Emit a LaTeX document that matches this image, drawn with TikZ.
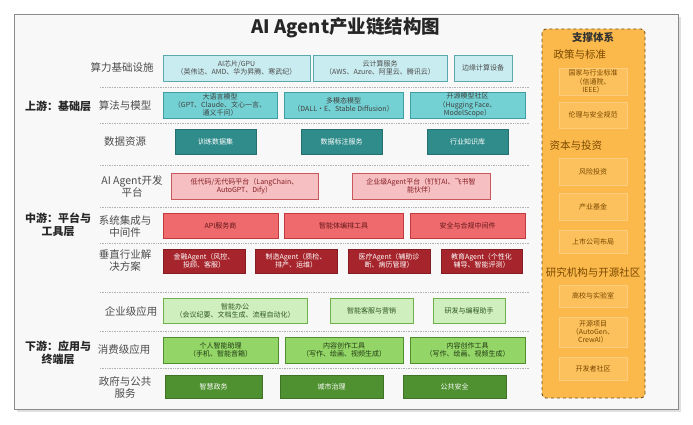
\documentclass[tikz,border=0pt]{standalone}
\usepackage{fontspec}
\setmainfont{Noto Sans CJK SC}
\usetikzlibrary{calc}

\definecolor{frameline}{HTML}{8A8A8A}
\definecolor{framefill}{HTML}{F8F8F8}
\definecolor{cyanAfill}{HTML}{C9ECF0}
\definecolor{cyanAline}{HTML}{5AA9AE}
\definecolor{cyanBfill}{HTML}{74D1D3}
\definecolor{cyanBline}{HTML}{3E9EA2}
\definecolor{tealfill}{HTML}{2F8C8B}
\definecolor{pinkfill}{HTML}{F6BFC2}
\definecolor{pinkline}{HTML}{C8585C}
\definecolor{salmonfill}{HTML}{EE6A6C}
\definecolor{salmonline}{HTML}{C23A3C}
\definecolor{wine}{HTML}{A6242B}
\definecolor{leaffill}{HTML}{CFEFBF}
\definecolor{leafline}{HTML}{6DB04C}
\definecolor{grassfill}{HTML}{93D566}
\definecolor{grassline}{HTML}{4F8E2F}
\definecolor{forest}{HTML}{4F9130}
\definecolor{amber}{HTML}{FBB94B}
\definecolor{amberline}{HTML}{6E5020}
\definecolor{amberbox}{HTML}{FCC15C}
\definecolor{brown}{HTML}{7A4800}

\tikzset{
  cell/.style={draw, align=center, inner sep=1pt, line width=0.6pt,
    font=\fontsize{7}{8.2}\selectfont},
  cyanA/.style={cell, fill=cyanAfill, draw=cyanAline, text=black!70},
  cyanB/.style={cell, fill=cyanBfill, draw=cyanBline, text=black!75},
  teal/.style={cell, fill=tealfill, draw=tealfill!80!black, text=white},
  pink/.style={cell, fill=pinkfill, draw=pinkline, text=wine!80!black},
  salmon/.style={cell, fill=salmonfill, draw=salmonline, text=wine!60!black},
  winebox/.style={cell, fill=wine, draw=wine!80!black, text=white},
  leaf/.style={cell, fill=leaffill, draw=leafline, text=forest!60!black},
  grass/.style={cell, fill=grassfill, draw=grassline, text=forest!40!black},
  forestbox/.style={cell, fill=forest, draw=forest!80!black, text=white},
  subcell/.style={cell, fill=amberbox, draw=amberbox!80!white, text=brown},
  rowlab/.style={align=center, font=\fontsize{10.5}{12}\selectfont, text=black!70},
  grplab/.style={align=center, font=\fontsize{11}{13}\selectfont\bfseries, text=black!85},
  panelhead/.style={font=\fontsize{10.5}{12}\selectfont, text=brown},
  sep/.style={densely dotted, draw=black!30, line width=0.7pt}
}

% cell from corner to corner, in pixels of the 693x425 picture
\def\cell[#1](#2)(#3,#4)(#5,#6)#7{\node[#1, minimum width={(#5)-(#3)}, minimum height={(#6)-(#4)}] (#2) at ({((#3)+(#5))/2},{((#4)+(#6))/2}) {#7};}

\begin{document}
\begin{tikzpicture}[x=1pt, y=-1pt]
			%%%%% START %%%%%
			\useasboundingbox[fill=white] (0,0) rectangle (693,425);
			
			% frame
			\fill[black!12] (17,17) rectangle (681,412);
			\draw[frameline, fill=framefill, line width=0.8pt] (14,14) rectangle (678,409);
			
			\node[font=\fontsize{18.5}{20}\selectfont\bfseries, text=black!85] (title) at (346,28) {AI Agent产业链结构图};
			
			% separators
			\foreach \y in {87,123,165,207,243,292,331,368}
				\draw[sep] (100,\y) -- (530,\y);
			
			% upstream
			\node[grplab] (up) at (58,106) {上游：基础层};
			\node[rowlab] (compute) at (122,68) {算力基础设施};
			\node[rowlab] (algo) at (125,105) {算法与模型};
			\node[rowlab] (data) at (125,142) {数据资源};
			
			\cell[cyanA](chip)(163,55)(310,81){AI芯片/GPU\\（英伟达、AMD、华为昇腾、寒武纪）}
			\cell[cyanA](cloud)(313,55)(447,81){云计算服务\\（AWS、Azure、阿里云、腾讯云）}
			\cell[cyanA](edge)(454,55)(512,81){边缘计算设备}
			
			\cell[cyanB](llm)(163,92)(277,118){大语言模型\\（GPT、Claude、文心一言、\\通义千问）}
			\cell[cyanB](multimodal)(284,92)(403,118){多模态模型\\（DALL·E、Stable Diffusion）}
			\cell[cyanB](opensrc)(410,92)(525,118){开源模型社区\\（Hugging Face、\\ModelScope）}
			
			\cell[teal](dataset)(175,129)(256,154){训练数据集}
			\cell[teal](labeling)(301,129)(382,154){数据标注服务}
			\cell[teal](knowledge)(427,129)(508,154){行业知识库}
			
			% midstream
			\node[grplab] (mid) at (58,225) {中游：平台与\\工具层};
			\node[rowlab] (devplat) at (132,186) {AI Agent开发\\平台};
			\node[rowlab] (middleware) at (125,226) {系统集成与\\中间件};
			\node[rowlab] (vertical) at (125,261) {垂直行业解\\决方案};
			
			\cell[pink](lowcode)(171,173)(318,199){低代码/无代码平台（LangChain、\\AutoGPT、Dify）}
			\cell[pink](entplat)(352,173)(490,199){企业级Agent平台（钉钉AI、飞书智\\能伙伴）}
			
			\cell[salmon](api)(163,213)(278,238){API服务商}
			\cell[salmon](orch)(284,213)(403,238){智能体编排工具}
			\cell[salmon](security)(410,213)(525,238){安全与合规中间件}
			
			\cell[winebox](finance)(163,249)(245,273){金融Agent（风控、\\投顾、客服）}
			\cell[winebox](factory)(255,249)(337,273){制造Agent（质检、\\排产、运维）}
			\cell[winebox](medical)(348,249)(430,273){医疗Agent（辅助诊\\断、病历管理）}
			\cell[winebox](education)(441,249)(522,273){教育Agent（个性化\\辅导、智能评测）}
			
			% downstream
			\node[grplab] (down) at (58,353) {下游：应用与\\终端层};
			\node[rowlab] (enterprise) at (131,311) {企业级应用};
			\node[rowlab] (consumer) at (124,350) {消费级应用};
			\node[rowlab] (public) at (125,387) {政府与公共\\服务};
			
			\cell[leaf](office)(163,298)(307,323){智能办公\\（会议纪要、文档生成、流程自动化）}
			\cell[leaf](service)(330,298)(413,323){智能客服与营销}
			\cell[leaf](coding)(433,298)(505,323){研发与编程助手}
			
			\cell[grass](assistant)(163,337)(278,363){个人智能助理\\（手机、智能音箱）}
			\cell[grass](content)(285,337)(403,363){内容创作工具\\（写作、绘画、视频生成）}
			\cell[grass](contentb)(410,337)(525,363){内容创作工具\\（写作、绘画、视频生成）}
			
			\cell[forestbox](egov)(165,375)(262,398){智慧政务}
			\cell[forestbox](city)(280,375)(383,398){城市治理}
			\cell[forestbox](safety)(403,375)(506,398){公共安全}
			
			% support panel
			\draw[amberline, fill=amber, dashed, line width=0.9pt, rounded corners=4pt] (542,29) rectangle (645,398);
			\node[font=\fontsize{10.5}{12}\selectfont\bfseries, text=black!80] (support) at (593,37) {支撑体系};
			\node[panelhead, anchor=west] (policy) at (550,55) {政策与标准};
			\cell[subcell](standard)(559,68)(627,95){国家与行业标准\\（信通院、\\IEEE）}
			\cell[subcell](ethics)(559,102)(627,128){伦理与安全规范}
			\node[panelhead, anchor=west] (capital) at (546,146) {资本与投资};
			\cell[subcell](venture)(559,158)(627,185){风险投资}
			\cell[subcell](fund)(559,193)(627,220){产业基金}
			\cell[subcell](listed)(559,230)(627,253){上市公司布局}
			\node[panelhead] (research) at (593,272) {研究机构与开源社区};
			\cell[subcell](univ)(559,285)(627,307){高校与实验室}
			\cell[subcell](ossproj)(559,317)(627,347){开源项目\\（AutoGen、\\CrewAI）}
			\cell[subcell](devcomm)(559,357)(627,380){开发者社区}
			
			%%%%% END %%%%%
\end{tikzpicture}
\end{document}
